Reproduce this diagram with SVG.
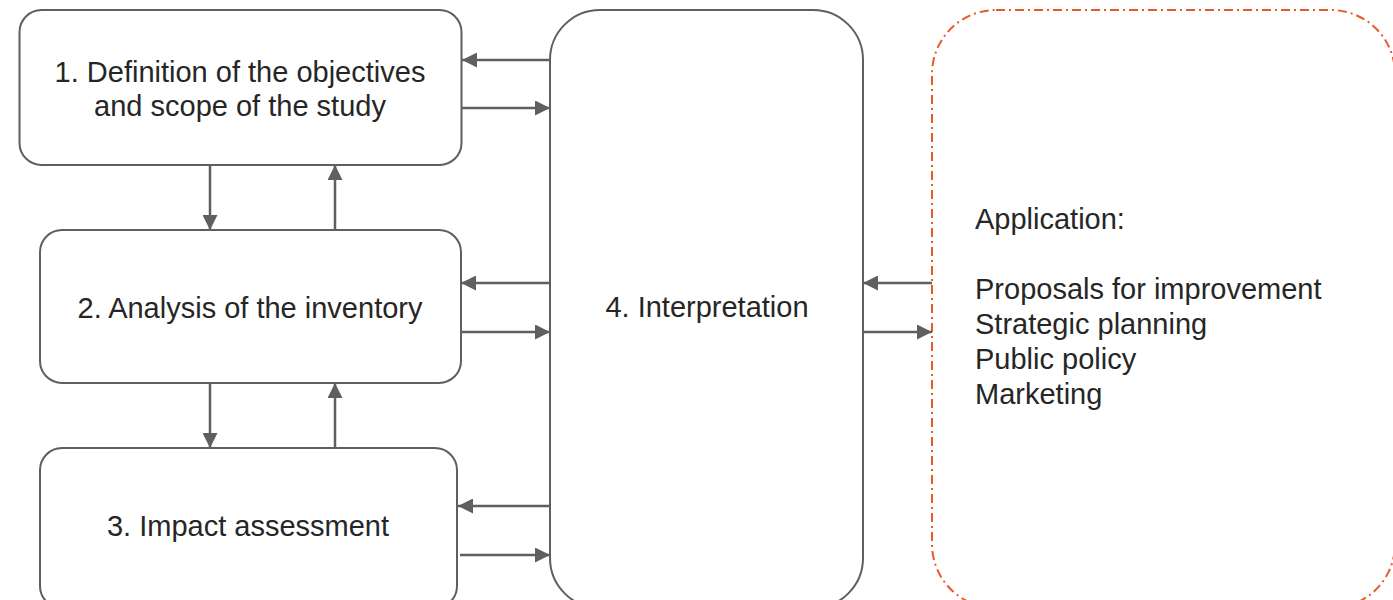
<svg xmlns="http://www.w3.org/2000/svg" width="1393" height="600" viewBox="0 0 1393 600">
<style>
.box{fill:#fff;stroke:#5f5f5f;stroke-width:2}
.app{fill:none;stroke:#E8592A;stroke-width:2;stroke-dasharray:9 4 2 4}
.t{font-family:"Liberation Sans",Arial,sans-serif;font-size:29px;fill:#262626}
.c{fill:none;stroke:#5f5f5f;stroke-width:2.5}
</style>
<defs>
<marker id="ah" viewBox="0 0 10 10" refX="10" refY="5" markerWidth="6" markerHeight="6" markerUnits="strokeWidth" orient="auto">
<path d="M0,0 L10,5 L0,10 Z" fill="#5f5f5f"/>
</marker>
</defs>
<rect x="0" y="0" width="1393" height="600" fill="#fff"/>
<g id="node1">
<rect class="box" x="19.5" y="10" width="442" height="155" rx="22"/>
<text class="t" x="240" y="82" text-anchor="middle">1. Definition of the objectives</text>
<text class="t" x="240" y="116" text-anchor="middle">and scope of the study</text>
</g>
<g id="node2">
<rect class="box" x="40" y="230" width="421" height="153" rx="22"/>
<text class="t" x="250" y="318" text-anchor="middle">2. Analysis of the inventory</text>
</g>
<g id="node3">
<rect class="box" x="40" y="448" width="417" height="160" rx="22"/>
<text class="t" x="248" y="536" text-anchor="middle">3. Impact assessment</text>
</g>
<g id="node4">
<rect class="box" x="550" y="10" width="313" height="598" rx="50"/>
<text class="t" x="707" y="317" text-anchor="middle">4. Interpretation</text>
</g>
<g id="node5">
<rect class="app" x="932" y="10" width="463" height="598" rx="64"/>
<text class="t" x="975" y="229">Application:</text>
<text class="t" x="975" y="299">Proposals for improvement</text>
<text class="t" x="975" y="334">Strategic planning</text>
<text class="t" x="975" y="369">Public policy</text>
<text class="t" x="975" y="404">Marketing</text>
</g>
<g id="connectors">
<line class="c" x1="550" y1="60" x2="462" y2="60" marker-end="url(#ah)"/>
<line class="c" x1="462" y1="108" x2="550" y2="108" marker-end="url(#ah)"/>
<line class="c" x1="210" y1="165" x2="210" y2="230" marker-end="url(#ah)"/>
<line class="c" x1="335" y1="230" x2="335" y2="165" marker-end="url(#ah)"/>
<line class="c" x1="550" y1="283" x2="461" y2="283" marker-end="url(#ah)"/>
<line class="c" x1="461" y1="332" x2="550" y2="332" marker-end="url(#ah)"/>
<line class="c" x1="210" y1="383" x2="210" y2="448" marker-end="url(#ah)"/>
<line class="c" x1="335" y1="448" x2="335" y2="383" marker-end="url(#ah)"/>
<line class="c" x1="550" y1="506" x2="458" y2="506" marker-end="url(#ah)"/>
<line class="c" x1="460" y1="555" x2="550" y2="555" marker-end="url(#ah)"/>
<line class="c" x1="932" y1="283" x2="863" y2="283" marker-end="url(#ah)"/>
<line class="c" x1="863" y1="332" x2="932" y2="332" marker-end="url(#ah)"/>
</g>
</svg>
